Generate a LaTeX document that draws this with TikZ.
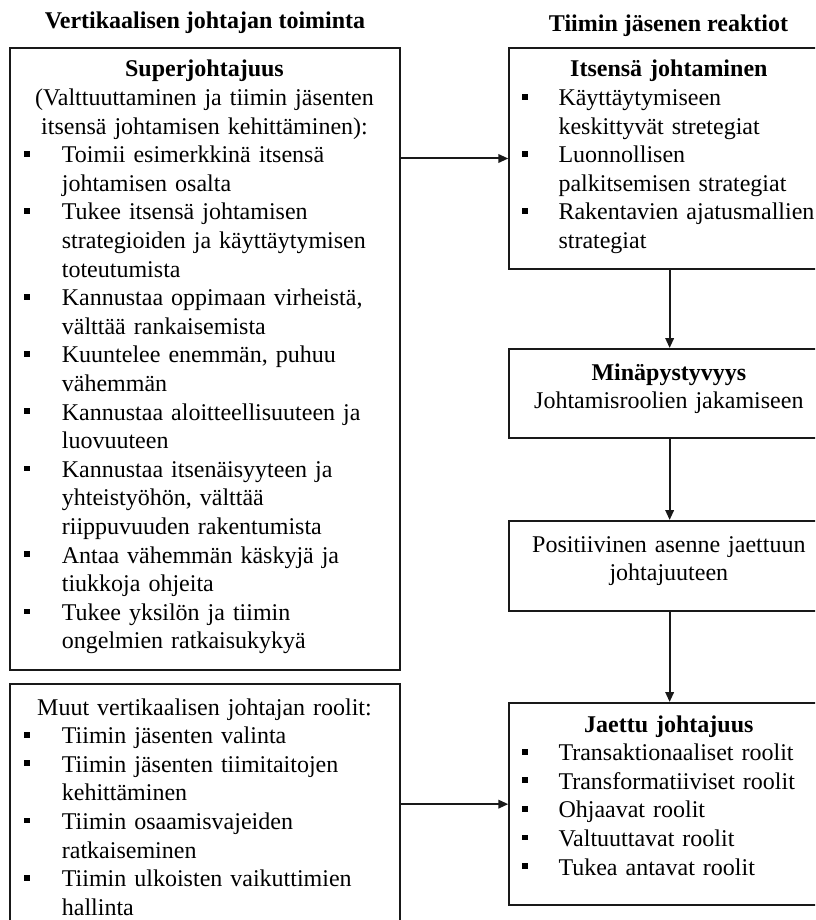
\documentclass[tikz,border=0pt]{standalone}
\usepackage{fontspec}
\setmainfont{Liberation Serif}
\usetikzlibrary{arrows.meta}

% bullet offset and text indent inside a box
\newlength\bulx
\newlength\txtx
\newcommand\bitem[1]{\par\hangindent=\txtx\hangafter=1\noindent
  \makebox[\txtx][l]{\hspace*{\bulx}\rule[6pt]{5.8pt}{5.8pt}}#1\par}
\newcommand\boxhead[1]{{\centering\bfseries #1\par}}
\newcommand\ctrtext[1]{{\centering #1\par}}

\begin{document}
\begin{tikzpicture}[x=1pt,y=-1pt,
  frame/.style={draw=black!90, line width=2pt, inner sep=0pt, anchor=north west},
  body/.style={inner sep=0pt, anchor=base west, font=\fontsize{24}{28.6}\selectfont, text width=#1},
  conn/.style={draw=black!90, line width=2pt, -{Triangle[length=10pt,width=8.5pt]}},
  title/.style={font=\fontsize{24}{28.6}\selectfont\bfseries, inner sep=0pt, anchor=base}]
\clip (0,0) rectangle (815,920);

% column titles
\node[title] (tleft) at (205,28.5) {Vertikaalisen johtajan toiminta};
\node[title] (tright) at (668.5,31.5) {Tiimin jäsenen reaktiot};

% frames
\node[frame, minimum width=390pt, minimum height=622.3pt] (sup) at (9.3,47) {};
\node[frame, minimum width=390pt, minimum height=257pt] (other) at (9.3,683.3) {};
\node[frame, minimum width=320.7pt, minimum height=221.6pt] (self) at (508.3,46.7) {};
\node[frame, minimum width=320.7pt, minimum height=89pt] (mina) at (508.3,348) {};
\node[frame, minimum width=320.7pt, minimum height=89.7pt] (pos) at (508.3,520) {};
\node[frame, minimum width=320.7pt, minimum height=202.3pt] (shared) at (508.3,702) {};

% box contents
\node[body=390pt] (suptext) at (9.3,77) {\setlength\bulx{14.7pt}\setlength\txtx{52.4pt}\raggedright
  \boxhead{Superjohtajuus}
  \ctrtext{(Valttuuttaminen ja tiimin jäsenten\\ itsensä johtamisen kehittäminen):}
  \bitem{Toimii esimerkkinä itsensä\newline johtamisen osalta}
  \bitem{Tukee itsensä johtamisen\newline strategioiden ja käyttäytymisen\newline toteutumista}
  \bitem{Kannustaa oppimaan virheistä,\newline välttää rankaisemista}
  \bitem{Kuuntelee enemmän, puhuu\newline vähemmän}
  \bitem{Kannustaa aloitteellisuuteen ja\newline luovuuteen}
  \bitem{Kannustaa itsenäisyyteen ja\newline yhteistyöhön, välttää\newline riippuvuuden rakentumista}
  \bitem{Antaa vähemmän käskyjä ja\newline tiukkoja ohjeita}
  \bitem{Tukee yksilön ja tiimin\newline ongelmien ratkaisukykyä}};

\node[body=390pt] (othertext) at (9.3,715) {\setlength\bulx{14.7pt}\setlength\txtx{52.4pt}\raggedright
  \ctrtext{Muut vertikaalisen johtajan roolit:}
  \bitem{Tiimin jäsenten valinta}
  \bitem{Tiimin jäsenten tiimitaitojen\newline kehittäminen}
  \bitem{Tiimin osaamisvajeiden\newline ratkaiseminen}
  \bitem{Tiimin ulkoisten vaikuttimien\newline hallinta}};

\node[body=320.7pt] (selftext) at (508.3,77) {\setlength\bulx{13.4pt}\setlength\txtx{50pt}\raggedright
  \boxhead{Itsensä johtaminen}
  \bitem{Käyttäytymiseen\newline keskittyvät stretegiat}
  \bitem{Luonnollisen\newline palkitsemisen strategiat}
  \bitem{Rakentavien ajatusmallien\newline strategiat}};

\node[body=320.7pt] (minatext) at (508.3,380) {\raggedright
  \boxhead{Minäpystyvyys}
  \ctrtext{Johtamisroolien jakamiseen}};

\node[body=320.7pt] (postext) at (508.3,552) {\raggedright
  \ctrtext{Positiivinen asenne jaettuun\\ johtajuuteen}};

\node[body=320.7pt] (sharedtext) at (508.3,732) {\setlength\bulx{13.4pt}\setlength\txtx{50pt}\raggedright
  \boxhead{Jaettu johtajuus}
  \bitem{Transaktionaaliset roolit}
  \bitem{Transformatiiviset roolit}
  \bitem{Ohjaavat roolit}
  \bitem{Valtuuttavat roolit}
  \bitem{Tukea antavat roolit}};

% connectors
\draw[conn] (sup.east |- self.west) -- (self.west);
\draw[conn] (other.east |- shared.west) -- (shared.west);
\draw[conn] (self.south) -- (mina.north);
\draw[conn] (mina.south) -- (pos.north);
\draw[conn] (pos.south) -- (shared.north);
\end{tikzpicture}
\end{document}
